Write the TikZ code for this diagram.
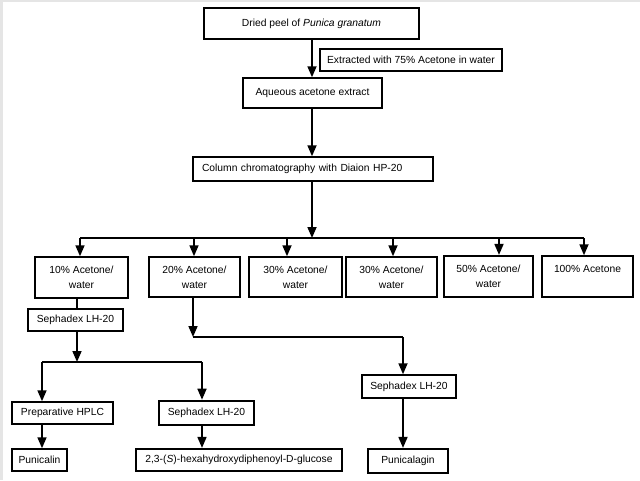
\documentclass[tikz,border=0pt]{standalone}
\usepackage{fontspec}
\setmainfont{Liberation Sans}
\usetikzlibrary{arrows.meta}
\newcommand{\fsz}{\fontsize{10.3pt}{15pt}\selectfont}
\begin{document}
\begin{tikzpicture}[x=1pt,y=-1pt,
  box/.style={draw, line width=1.5pt, inner sep=0pt, font=\fsz, align=center},
  thickbox/.style={box, line width=2.2pt},
  arr/.style={line width=1.7pt, -{Triangle[width=9pt,length=11pt]}},
  ln/.style={line width=1.7pt}]
\useasboundingbox (0,0) rectangle (640,480);
\fill[white] (0,0) rectangle (640,480);
\fill[black!10] (0,0) rectangle (3,480);
\fill[black!10] (0,0) rectangle (640,2);
% top part
\node[thickbox, minimum width=215pt, minimum height=31pt] (top) at (311.5,23.5) {Dried peel of \textit{Punica granatum}};
\node[thickbox, minimum width=182pt, minimum height=22pt] (ext) at (411,60) {Extracted with 75\% Acetone in water};
\node[box, minimum width=139pt, minimum height=30pt] (aq) at (312.5,93) {Aqueous acetone extract};
\node[box, text width=222pt, inner xsep=9pt, minimum height=24pt, align=left] (col) at (313,169) {Column chromatography with Diaion HP-20};
% fractions
\node[box, minimum width=93pt, minimum height=41pt] (p10) at (81.5,277.5) {10\% Acetone/\\water};
\node[box, minimum width=91pt, minimum height=40pt] (p20) at (194.5,277) {20\% Acetone/\\water};
\node[box, minimum width=93pt, minimum height=40pt] (p30a) at (295.5,277) {30\% Acetone/\\water};
\node[box, minimum width=91pt, minimum height=40pt] (p30b) at (391.5,277) {30\% Acetone/\\water};
\node[thickbox, minimum width=89pt, minimum height=41pt] (p50) at (488.5,276.5) {50\% Acetone/\\water};
\node[box, minimum width=91pt, minimum height=41pt] (p100) at (587.5,276.5) {100\% Acetone\\\phantom{water}};
% lower
\node[box, minimum width=95pt, minimum height=22pt] (s1) at (75.5,320) {Sephadex LH-20};
\node[box, minimum width=101pt, minimum height=22pt] (prep) at (62.5,413) {Preparative HPLC};
\node[box, line width=2.6pt, minimum width=95pt, minimum height=24pt] (sm) at (206.5,413) {Sephadex LH-20};
\node[box, minimum width=55pt, minimum height=22pt] (pn) at (39.5,460) {Punicalin};
\node[thickbox, minimum width=206pt, minimum height=22pt] (hg) at (239,460) {2,3-(\textit{S})-hexahydroxydiphenoyl-D-glucose};
\node[box, minimum width=94pt, minimum height=23pt] (sr) at (409,386.5) {Sephadex LH-20};
\node[thickbox, minimum width=80pt, minimum height=24pt] (pg) at (408,461) {Punicalagin};
% coordinates
\coordinate (j0) at (312,238);
\coordinate (h1) at (80,238);
\coordinate (h2) at (194,238);
\coordinate (h3) at (287,238);
\coordinate (h4) at (393,238);
\coordinate (h5) at (499,238);
\coordinate (h6) at (584,238);
\coordinate (j1) at (77,362);
\coordinate (k1) at (42,362);
\coordinate (k2) at (202,362);
\coordinate (m1) at (193,337);
\coordinate (m2) at (403,337);
% connectors
\draw[arr] (top.south -| j0) -- (j0 |- aq.north);
\draw[arr] (aq.south -| j0) -- (j0 |- col.north);
\draw[arr] (col.south -| j0) -- (j0);
\draw[ln] (h1) -- (h6);
\draw[arr] (h1) -- (h1 |- p10.north);
\draw[arr] (h2) -- (h2 |- p20.north);
\draw[arr] (h3) -- (h3 |- p30a.north);
\draw[arr] (h4) -- (h4 |- p30b.north);
\draw[arr] (h5) -- (h5 |- p50.north);
\draw[arr] (h6) -- (h6 |- p100.north);
\draw[ln] (p10.south -| j1) -- (j1 |- s1.north);
\draw[arr] (s1.south -| j1) -- (j1);
\draw[ln] (k1) -- (k2);
\draw[arr] (k1) -- (k1 |- prep.north);
\draw[arr] (k2) -- (k2 |- sm.north);
\draw[arr] (prep.south -| k1) -- (k1 |- pn.north);
\draw[arr] (sm.south -| k2) -- (k2 |- hg.north);
\draw[arr] (p20.south -| m1) -- (m1);
\draw[ln] (m1) -- (m2);
\draw[arr] (m2) -- (m2 |- sr.north);
\draw[arr] (sr.south -| m2) -- (m2 |- pg.north);
\end{tikzpicture}
\end{document}
